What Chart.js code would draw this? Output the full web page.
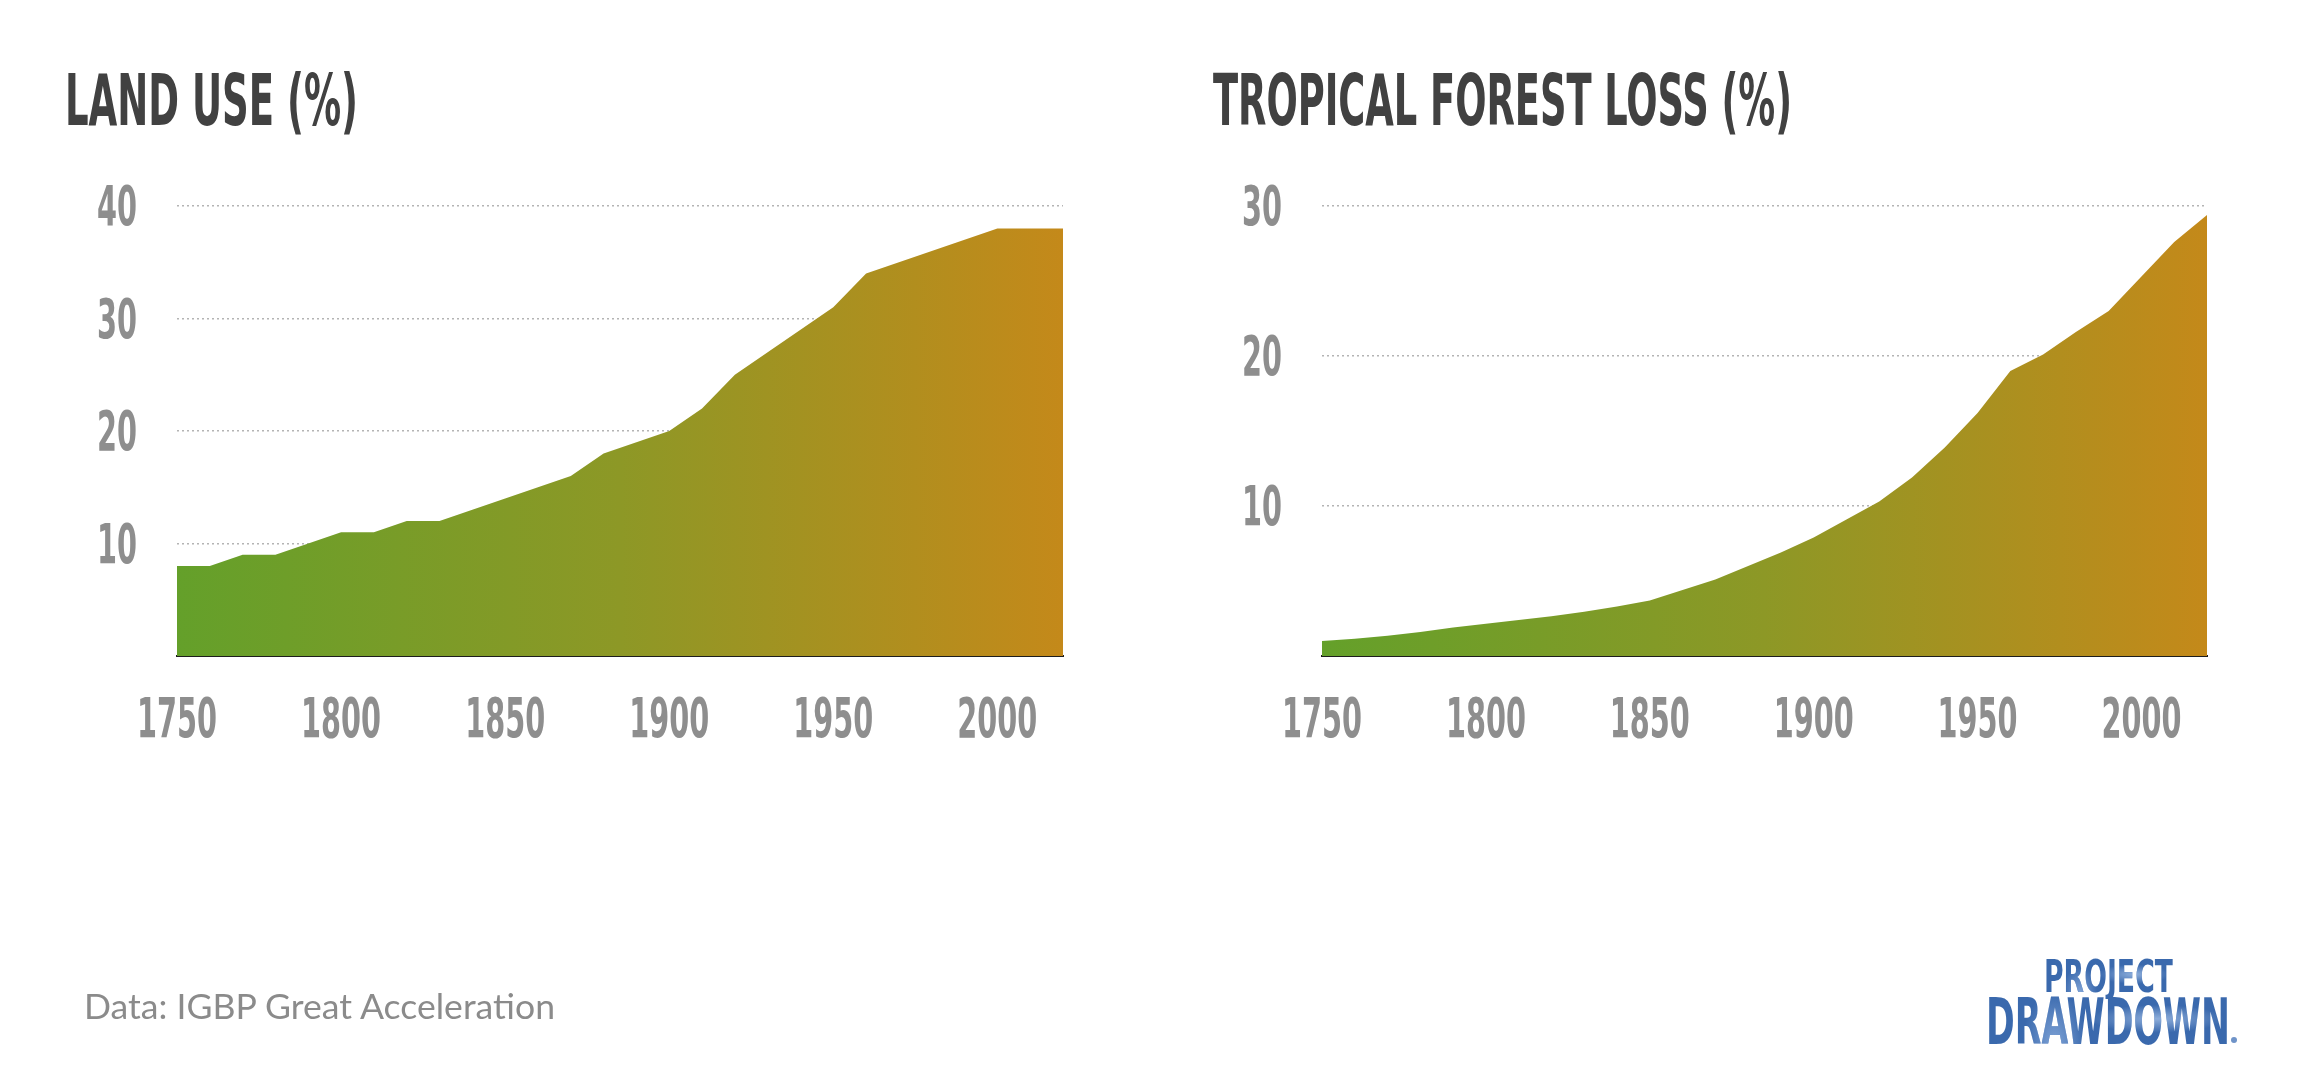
<!DOCTYPE html>
<html>
<head>
<meta charset="utf-8">
<script src="https://cdn.jsdelivr.net/npm/chart.js@4.4.1/dist/chart.umd.min.js"></script>
<style>
    html, body { margin: 0; padding: 0; background: #ffffff; }
    #page { position: relative; width: 2307px; height: 1080px; overflow: hidden; background: #ffffff; }
    canvas { position: absolute; top: 0; }
    .title {
        position: absolute; top: 58px; white-space: nowrap; line-height: 1;
        font: bold 72px 'Liberation Sans Narrow', 'DejaVu Sans Condensed', sans-serif;
        color: #414141; transform-origin: 0 0;
    }
    .source {
        position: absolute; left: 84px; top: 984px; white-space: nowrap; line-height: 1;
        font: 35px Lato, 'Open Sans', sans-serif; color: #8b8b8b; transform-origin: 0 0;
    }
    .logo {
        position: absolute; white-space: nowrap; line-height: 1; transform-origin: 0 0;
        font-weight: bold; font-family: 'Liberation Sans Narrow', 'DejaVu Sans Condensed', sans-serif;
        background: radial-gradient(ellipse at 70% 45%, #8eaedb 0%, rgba(59,108,178,0) 28%),
                    radial-gradient(circle at 28% 85%, #7fa3d6 0%, rgba(59,108,178,0) 18%),
                    #3a69ad;
        -webkit-background-clip: text; background-clip: text; color: transparent;
    }
    .logo-dot {
        position: absolute; left: 2231px; top: 1037px; width: 6px; height: 6px;
        border-radius: 50%; background: #6f93c8;
    }
</style>
</head>
<body>
<div id="page">
    <canvas id="land-use" width="1150" height="800" style="left:0px"></canvas>
    <canvas id="forest-loss" width="1157" height="800" style="left:1150px"></canvas>
    <div class="title" data-width="293" style="left:65px">LAND USE (%)</div>
    <div class="title" data-width="579" style="left:1213px">TROPICAL FOREST LOSS (%)</div>
    <div class="source" data-width="471">Data: IGBP Great Acceleration</div>
    <div class="logo" data-width="129" style="left:2044px; top:954px; font-size:45px">PROJECT</div>
    <div class="logo" data-width="244" style="left:1986px; top:990px; font-size:64px">DRAWDOWN</div>
    <div class="logo-dot"></div>
</div>
<script>
// decades
const years = [1750, 1760, 1770, 1780, 1790, 1800, 1810, 1820, 1830, 1840, 1850, 1860, 1870, 1880,
    1890, 1900, 1910, 1920, 1930, 1940, 1950, 1960, 1970, 1980, 1990, 2000, 2010, 2020];
const landUse = [8, 8, 9, 9, 10, 11, 11, 12, 12, 13, 14, 15, 16, 18,
    19, 20, 22, 25, 27, 29, 31, 34, 35, 36, 37, 38, 38, 38];
const forestLoss = [1.0, 1.15, 1.35, 1.6, 1.9, 2.15, 2.4, 2.65, 2.95, 3.3, 3.7, 4.4, 5.1, 6.0,
    6.9, 7.9, 9.1, 10.3, 11.9, 13.9, 16.2, 19.0, 20.1, 21.6, 23.0, 25.3, 27.6, 29.4];
const xTickLabels = [1750, 1800, 1850, 1900, 1950, 2000];
const landUseTicks = [10, 20, 30, 40];
const forestLossTicks = [10, 20, 30];

const NARROW = "'Liberation Sans Narrow', 'DejaVu Sans Condensed', sans-serif";
const TICK_COLOR = "#8e8e8e";

// tick labels are a tall condensed face, so squeeze them to the width seen in the picture
const axisLabels = {
    id: "axisLabels",
    afterDraw: (chart, args, opts)=>{
        let ctx = chart.ctx;
        let area = chart.chartArea;
        let drawSqueezed = (text, x, y, align)=>{
            let w = ctx.measureText(text).width;
            let sx = Math.min(1, text.length*20/w);
            ctx.save();
            ctx.translate(x, y);
            ctx.scale(sx, 1);
            ctx.textAlign = align;
            ctx.fillText(text, 0, 0);
            ctx.restore();
        };
        ctx.save();
        ctx.font = `bold 56px ${NARROW}`;
        ctx.fillStyle = TICK_COLOR;
        ctx.textBaseline = "alphabetic";
        opts.yTicks.forEach((v)=>drawSqueezed(String(v), area.left-40, chart.scales.y.getPixelForValue(v)+19, "right"));
        xTickLabels.forEach((v)=>drawSqueezed(String(v), chart.scales.x.getPixelForValue(v), area.bottom+81, "center"));
        ctx.restore();
    }
};

let areaFill = (c)=>{
    let area = c.chart.chartArea;
    if(!area) return "#64a02a";
    let g = c.chart.ctx.createLinearGradient(area.left, 0, area.right, 0);
    g.addColorStop(0, "#64a02a");
    g.addColorStop(0.5, "#8d9826");
    g.addColorStop(1, "#c4891a");
    return g;
};

let makeChart = (canvasId, values, yMax, yTicks, padding)=>{
    return new Chart(document.getElementById(canvasId), {
        "type": "line",
        "data": {
            "datasets": [{
                "data": years.map((y, i)=>({"x": y, "y": values[i]})),
                "fill": "origin",
                "backgroundColor": areaFill,
                "borderWidth": 0,
                "pointRadius": 0,
                "tension": 0,
            }],
        },
        "plugins": [axisLabels],
        "options": {
            "responsive": false,
            "animation": false,
            "devicePixelRatio": 1,
            "layout": {"padding": padding},
            "plugins": {
                "legend": {"display": false},
                "tooltip": {"enabled": false},
                "axisLabels": {"yTicks": yTicks},
            },
            "scales": {
                "x": {
                    "type": "linear",
                    "min": 1750,
                    "max": 2020,
                    "ticks": {"display": false},
                    "grid": {"display": false, "drawTicks": false},
                    "border": {"display": true, "color": "#1d1d1d", "width": 2},
                },
                "y": {
                    "min": 0,
                    "max": yMax,
                    "ticks": {"display": false, "stepSize": 10},
                    "grid": {
                        "drawTicks": false,
                        "lineWidth": 1.5,
                        "color": (c)=>((c.tick && c.tick.value === 0) ? "rgba(0,0,0,0)" : "#b4b4b4"),
                    },
                    "border": {"display": false, "dash": [2, 3]},
                },
            },
        },
    });
};

makeChart("land-use", landUse, 40, landUseTicks, {"left": 177, "top": 206, "right": 87, "bottom": 144});
makeChart("forest-loss", forestLoss, 30, forestLossTicks, {"left": 172, "top": 206, "right": 100, "bottom": 144});

// stretch the html texts to the widths measured on the reference
document.querySelectorAll("[data-width]").forEach((el)=>{
    let target = parseFloat(el.getAttribute("data-width"));
    el.style.transform = `scaleX(${target/el.getBoundingClientRect().width})`;
});
</script>
</body>
</html>
